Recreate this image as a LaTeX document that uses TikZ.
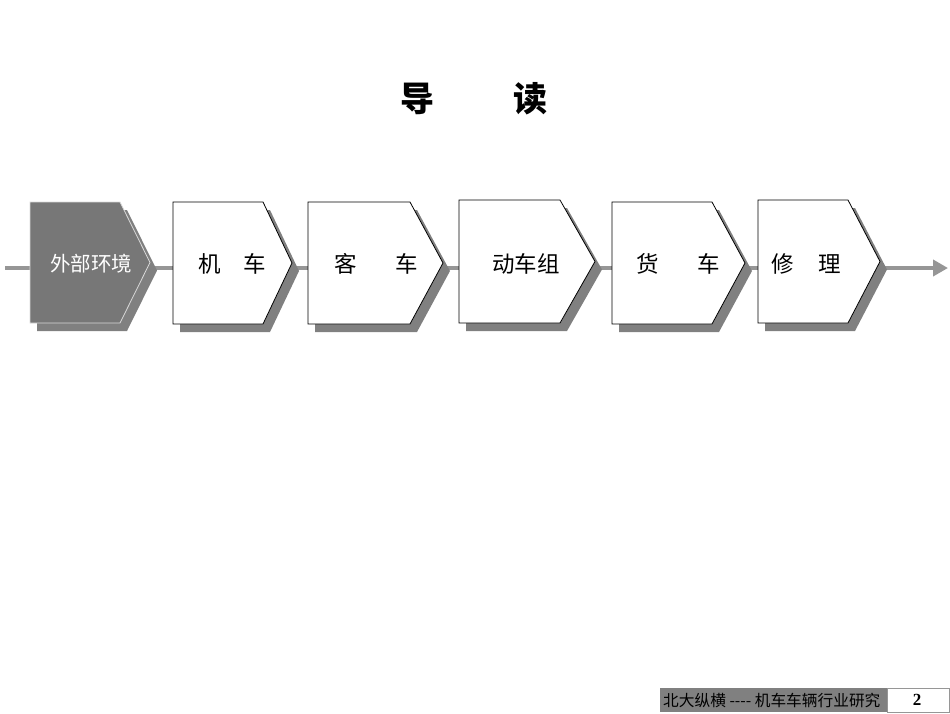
\documentclass[tikz,border=0pt]{standalone}
\usepackage{fontspec}
\newfontfamily\cjk{Noto Sans CJK SC}
\newfontfamily\numfont{Liberation Serif}
\usetikzlibrary{arrows.meta}
\definecolor{boxgray}{RGB}{119,119,119}
\definecolor{shadowgray}{RGB}{128,128,128}
\definecolor{linegray}{RGB}{150,150,150}
\tikzset{
  chevron/.style={draw=black, line width=0.8pt, fill=white},
  shade/.style={fill=shadowgray, draw=none},
  label/.style={font=\cjk\fontsize{22.5}{26}\selectfont, inner sep=0pt},
}
\begin{document}
\begin{tikzpicture}[x=1pt,y=-1pt,>={Triangle[length=15pt,width=16pt]}]
   \useasboundingbox (0,0) rectangle (950,713);

   % 标题
   \node [font=\cjk\bfseries\fontsize{34}{40}\selectfont] (title) at (474,99) {导\hspace{2.3em}读};

   % 流程线
   \coordinate (start) at (5,268);
   \coordinate (end) at (948,268);
   \draw [->, linegray, line width=4pt] (start) -- (end);

   % 外部环境
   \fill [shade, shift={(7,8)}] (30,202) -- (120,202) -- (150,262.5) -- (120,323) -- (30,323) -- cycle;
   \draw [fill=boxgray, draw=white!85!black, line width=0.8pt] (30,202) -- (120,202) -- (150,262.5) -- (120,323) -- (30,323) -- cycle;
   \node [label, text=white, font=\cjk\fontsize{20.5}{24}\selectfont] (waibu) at (91,264) {外部环境};

   % 机车
   \fill [shade, shift={(7,8)}] (173,202) -- (263,202) -- (292,263) -- (263,324) -- (173,324) -- cycle;
   \draw [chevron] (173,202) -- (263,202) -- (292,263) -- (263,324) -- (173,324) -- cycle;
   \node [label] (jiche) at (232,264) {机\hspace{1em}车};

   % 客车
   \fill [shade, shift={(7,8)}] (308,202) -- (410,202) -- (443,263) -- (410,324) -- (308,324) -- cycle;
   \draw [chevron] (308,202) -- (410,202) -- (443,263) -- (410,324) -- (308,324) -- cycle;
   \node [label] (keche) at (376,264) {客\hspace{1.7em}车};

   % 动车组
   \fill [shade, shift={(7,8)}] (459,200) -- (560,200) -- (595,261.5) -- (560,323) -- (459,323) -- cycle;
   \draw [chevron] (459,200) -- (560,200) -- (595,261.5) -- (560,323) -- (459,323) -- cycle;
   \node [label] (dongche) at (526,264) {动车组};

   % 货车
   \fill [shade, shift={(7,8)}] (612,202) -- (712,202) -- (745,263) -- (712,324) -- (612,324) -- cycle;
   \draw [chevron] (612,202) -- (712,202) -- (745,263) -- (712,324) -- (612,324) -- cycle;
   \node [label] (huoche) at (678,264) {货\hspace{1.7em}车};

   % 修理
   \fill [shade, shift={(7,8)}] (758,200) -- (848,200) -- (880,261.5) -- (848,323) -- (758,323) -- cycle;
   \draw [chevron] (758,200) -- (848,200) -- (880,261.5) -- (848,323) -- (758,323) -- cycle;
   \node [label] (xiuli) at (806,264) {修\hspace{1.1em}理};

   % 页脚
   \fill [shadowgray] (660,688) rectangle (887,712);
   \node [anchor=west, inner sep=0pt, font=\cjk\fontsize{15.7}{18}\selectfont] (footer) at (663,700) {北大纵横 ---- 机车车辆行业研究};
   \draw [fill=white, draw=linegray, line width=0.8pt] (887,688) rectangle (949,712);
   \node [inner sep=0pt, font=\numfont\bfseries\fontsize{17}{20}\selectfont] (page) at (917,700) {2};
\end{tikzpicture}
\end{document}
